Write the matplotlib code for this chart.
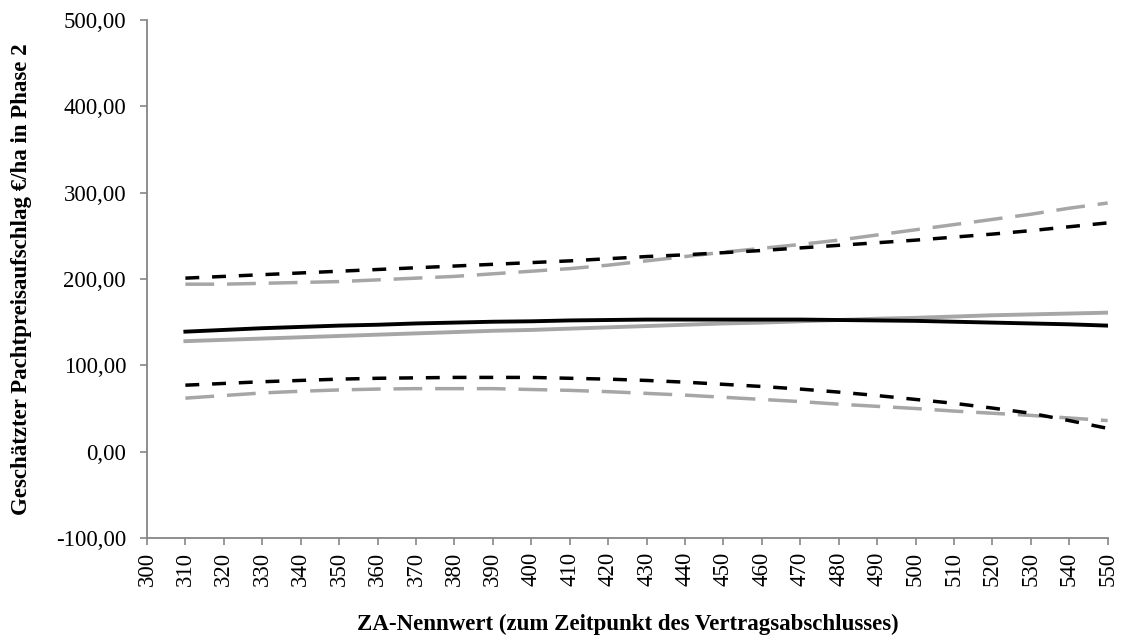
import matplotlib.pyplot as plt
from matplotlib.ticker import FuncFormatter

# ZA-Nennwert
x = [310, 320, 330, 340, 350, 360, 370, 380, 390, 400, 410, 420, 430,
     440, 450, 460, 470, 480, 490, 500, 510, 520, 530, 540, 550]

# Schätzung + Konfidenzband (schwarz)
black_mid = [139, 141, 143, 144.5, 146, 147, 148.5, 149.5, 150.5, 151, 152, 152.5, 153,
             153, 153, 153, 153, 152.5, 152, 151.5, 150.5, 149.5, 148.5, 147.5, 146]
black_up = [201, 203, 205, 207, 209, 211, 213, 215, 217, 219, 221, 223.5, 226,
            228, 230.5, 233, 236, 239, 242, 245, 248.5, 252, 256, 260.5, 265]
black_lo = [77, 79, 81, 82.5, 84, 85, 85.5, 86, 86, 86, 85, 84, 82.5,
            80.5, 78, 75.5, 72.5, 69, 65, 60.5, 56, 50.5, 44.5, 36, 27]

# Schätzung + Konfidenzband (grau)
gray_mid = [128, 129.5, 131, 132.5, 134, 135.5, 137, 138.5, 140, 141, 142.5, 144, 145.5,
            147, 148.5, 149.5, 151, 152.5, 154, 155, 156.5, 158, 159, 160, 161]
gray_up = [194, 194, 195, 196, 197, 199, 201, 203, 206, 209, 212, 216, 221,
           226, 231, 235.5, 240, 245, 251, 257, 263, 269, 275, 282, 288]
gray_lo = [62, 65, 68, 70, 71.5, 72.5, 73, 73, 73, 72, 71, 69.5, 67.5,
           65.5, 63, 60.5, 58, 55, 52.5, 50, 47, 44.5, 42, 39, 36]

plt.rcParams['font.family'] = ['Liberation Serif', 'DejaVu Serif']

fig = plt.figure(figsize=(11.26, 6.41), dpi=100)
ax = fig.add_axes([0.1305, 0.1607, 0.8532, 0.8081])

grey = '#A6A6A6'
ax.plot(x, gray_up, color=grey, lw=2.5, dashes=(8.3, 3.7))
ax.plot(x, gray_lo, color=grey, lw=2.5, dashes=(8.3, 3.7))
ax.plot(x, black_up, color='black', lw=2.5, dashes=(4, 3.7))
ax.plot(x, black_lo, color='black', lw=2.5, dashes=(4, 3.7))
ax.plot(x, gray_mid, color=grey, lw=2.8)
ax.plot(x, black_mid, color='black', lw=2.8)

ax.set_xlim(300, 550)
ax.set_ylim(-100, 500)
ax.set_xticks(range(300, 551, 10))
ax.set_yticks(range(-100, 501, 100))
ax.yaxis.set_major_formatter(FuncFormatter(lambda v, p: f"{v:.2f}".replace('.', ',')))
ax.tick_params(axis='x', rotation=90, pad=5)
ax.tick_params(axis='y', pad=10)
ax.tick_params(labelsize=16.5, color='#868686', length=5, width=1.2)

for s in ['top', 'right']:
    ax.spines[s].set_visible(False)
for s in ['left', 'bottom']:
    ax.spines[s].set_color('#868686')
    ax.spines[s].set_linewidth(1.3)

fig.text(0.0195, 0.5646, 'Geschätzter Pachtpreisaufschlag €/ha in Phase 2', rotation=90,
         ha='center', va='center', fontsize=16.5, fontweight='bold')
fig.text(0.5575, 0.026, 'ZA-Nennwert (zum Zeitpunkt des Vertragsabschlusses)',
         ha='center', va='center', fontsize=16.5, fontweight='bold')

plt.savefig('out.png', dpi=100)
